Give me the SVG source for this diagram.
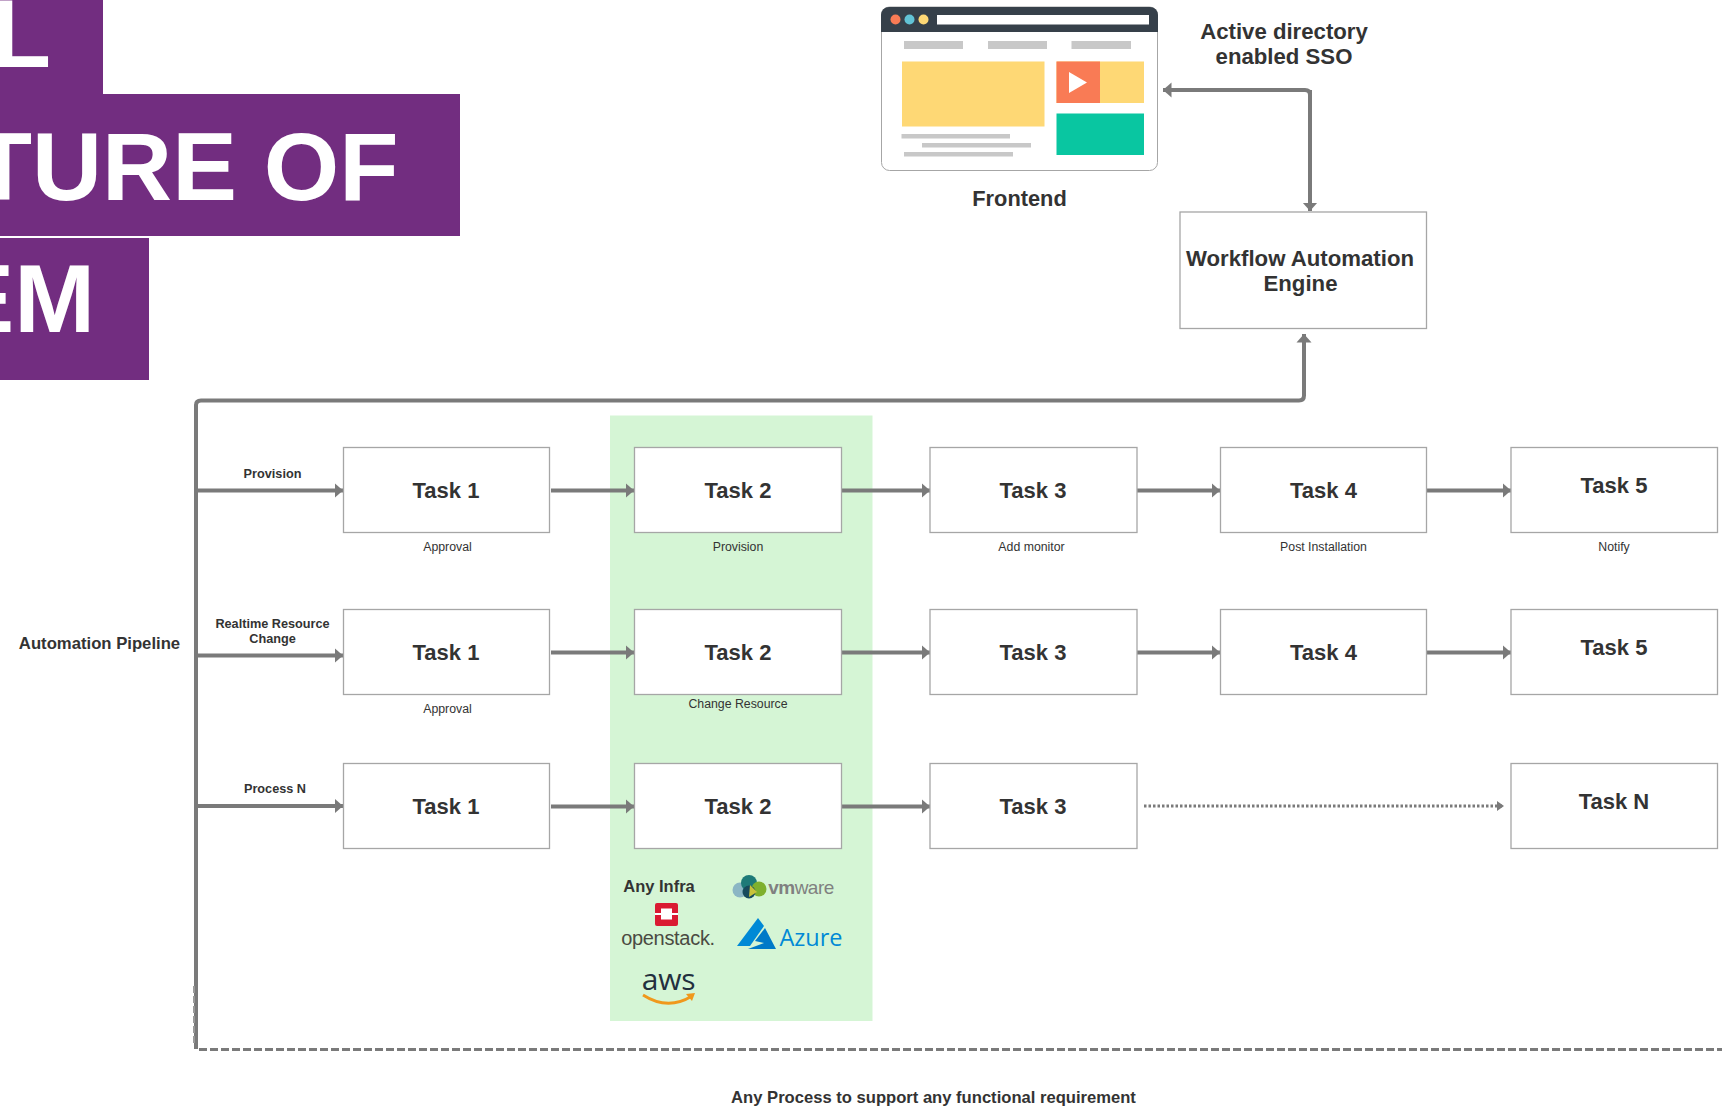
<svg xmlns="http://www.w3.org/2000/svg" width="1729" height="1107" viewBox="0 0 1729 1107">
<style>
text{font-family:"Liberation Sans",Arial,sans-serif;fill:#333;text-anchor:middle}
.t{font-size:22px;font-weight:700}
.s{font-size:12.300px}
.l{font-size:12.700px;font-weight:700}
.h{font-size:22.200px;font-weight:700}
.title{font-size:97px;font-weight:700;fill:#fff;text-anchor:end}
.box{fill:#fff;stroke:#a6a6a6;stroke-width:1.300}
.c{fill:none;stroke:#7a7a7a;stroke-width:4;stroke-linejoin:round}
.g{fill:#c8c8c8}
</style>
<defs>
<marker id="a" markerUnits="userSpaceOnUse" markerWidth="9" markerHeight="16" refX="8.500" refY="8" orient="auto-start-reverse"><path d="M0 0.500L8.500 8L0 15.500Z" fill="#7a7a7a"/></marker>
<marker id="d" markerUnits="userSpaceOnUse" markerWidth="7" markerHeight="10" refX="7" refY="5" orient="auto"><path d="M0 0L7 5L0 10Z" fill="#7a7a7a"/></marker>
</defs>
<rect width="1729" height="1107" fill="#fff"/>
<g id="title">
<rect x="0" y="0" width="103" height="94" fill="#722d80"/>
<rect x="0" y="94" width="460" height="142" fill="#722d80"/>
<rect x="0" y="238" width="149" height="142" fill="#722d80"/>
<text class="title" x="51" y="67">L</text>
<text class="title" x="398.500" y="199.500">TURE OF</text>
<text class="title" x="95" y="331.500">EM</text>
</g>
<rect id="infra-band" x="610" y="415.500" width="262.500" height="605.500" fill="#d5f5d5"/>
<g id="connectors">
<path class="c" d="M1310 95Q1310 90 1305 90H1163" marker-end="url(#a)"/>
<path class="c" d="M1310 90V211" marker-end="url(#a)"/>
<path class="c" d="M196 1049V405Q196 400.500 201 400.500H1299Q1304 400.500 1304 395.500V334" marker-end="url(#a)"/>
<path d="M199 1049.500H1722" fill="none" stroke="#7a7a7a" stroke-width="3" stroke-dasharray="8 3"/>
<path d="M194 986V1046" fill="none" stroke="#9a9a9a" stroke-width="2" stroke-dasharray="7 3"/>
<path class="c" d="M196 490.500H343" marker-end="url(#a)"/>
<path class="c" d="M551 490.500H634" marker-end="url(#a)"/>
<path class="c" d="M841 490.500H930" marker-end="url(#a)"/>
<path class="c" d="M1137 490.500H1220" marker-end="url(#a)"/>
<path class="c" d="M1426 490.500H1511" marker-end="url(#a)"/>
<path class="c" d="M196 655.500H343" marker-end="url(#a)"/>
<path class="c" d="M551 652.500H634" marker-end="url(#a)"/>
<path class="c" d="M841 652.500H930" marker-end="url(#a)"/>
<path class="c" d="M1137 652.500H1220" marker-end="url(#a)"/>
<path class="c" d="M1426 652.500H1511" marker-end="url(#a)"/>
<path class="c" d="M196 806H343" marker-end="url(#a)"/>
<path class="c" d="M551 806.500H634" marker-end="url(#a)"/>
<path class="c" d="M841 806.500H930" marker-end="url(#a)"/>
<path d="M1144 806H1504" fill="none" stroke="#7a7a7a" stroke-width="3" stroke-dasharray="2.500 2" marker-end="url(#d)"/>
</g>
<g id="frontend">
<rect x="881.500" y="7" width="276" height="163.500" rx="8" fill="#fff" stroke="#a6a6a6" stroke-width="1"/>
<path d="M881 32V15a8 8 0 0 1 8-8H1150a8 8 0 0 1 8 8V32Z" fill="#36404a"/>
<circle cx="895.500" cy="19.500" r="5" fill="#f97b55"/>
<circle cx="909.500" cy="19.500" r="5" fill="#62c3d6"/>
<circle cx="923.500" cy="19.500" r="5" fill="#fed875"/>
<rect x="937" y="15" width="212" height="9.500" fill="#fff"/>
<rect class="g" x="904" y="41" width="59" height="8"/>
<rect class="g" x="988" y="41" width="59" height="8"/>
<rect class="g" x="1071.500" y="41" width="59.500" height="8"/>
<rect x="902" y="61.500" width="142.500" height="65" fill="#fed875"/>
<rect x="1056.500" y="61.500" width="87.500" height="41.500" fill="#fed875"/>
<rect x="1056.500" y="61.500" width="43.500" height="41.500" fill="#f97b55"/>
<path d="M1069 72L1087 82.500L1069 93Z" fill="#fff"/>
<rect x="1056.500" y="113.500" width="87.500" height="41.500" fill="#09c6a1"/>
<rect class="g" x="901.500" y="134" width="108.500" height="4.500"/>
<rect class="g" x="922" y="143" width="109" height="4.500"/>
<rect class="g" x="904" y="152" width="109" height="4.500"/>
<text class="h" x="1019.500" y="206" style="font-size:21.800px">Frontend</text>
</g>
<text class="h" id="sso-label-1" x="1284" y="38.500">Active directory</text>
<text class="h" id="sso-label-2" x="1284" y="64">enabled SSO</text>
<g id="workflow-engine">
<rect class="box" x="1180" y="212" width="246.500" height="116.500"/>
<text class="h" x="1300" y="265.500">Workflow Automation</text>
<text class="h" x="1300.500" y="291">Engine</text>
</g>
<g id="r1-task1"><rect class="box" x="343.500" y="447.500" width="206" height="85"/><text class="t" x="446" y="498">Task 1</text><text class="s" x="447.500" y="551">Approval</text></g>
<g id="r1-task2"><rect class="box" x="634.500" y="447.500" width="207" height="85"/><text class="t" x="738" y="498">Task 2</text><text class="s" x="738" y="551">Provision</text></g>
<g id="r1-task3"><rect class="box" x="930" y="447.500" width="207" height="85"/><text class="t" x="1033" y="498">Task 3</text><text class="s" x="1031.500" y="551">Add monitor</text></g>
<g id="r1-task4"><rect class="box" x="1220.500" y="447.500" width="206" height="85"/><text class="t" x="1323.500" y="498">Task 4</text><text class="s" x="1323.500" y="551">Post Installation</text></g>
<g id="r1-task5"><rect class="box" x="1511" y="447.500" width="206.500" height="85"/><text class="t" x="1614" y="493">Task 5</text><text class="s" x="1614" y="551">Notify</text></g>
<g id="r2-task1"><rect class="box" x="343.500" y="609.500" width="206" height="85"/><text class="t" x="446" y="660">Task 1</text><text class="s" x="447.500" y="713">Approval</text></g>
<g id="r2-task2"><rect class="box" x="634.500" y="609.500" width="207" height="85"/><text class="t" x="738" y="660">Task 2</text><text class="s" x="738" y="708">Change Resource</text></g>
<g id="r2-task3"><rect class="box" x="930" y="609.500" width="207" height="85"/><text class="t" x="1033" y="660">Task 3</text></g>
<g id="r2-task4"><rect class="box" x="1220.500" y="609.500" width="206" height="85"/><text class="t" x="1323.500" y="660">Task 4</text></g>
<g id="r2-task5"><rect class="box" x="1511" y="609.500" width="206.500" height="85"/><text class="t" x="1614" y="655">Task 5</text></g>
<g id="r3-task1"><rect class="box" x="343.500" y="763.500" width="206" height="85"/><text class="t" x="446" y="814">Task 1</text></g>
<g id="r3-task2"><rect class="box" x="634.500" y="763.500" width="207" height="85"/><text class="t" x="738" y="814">Task 2</text></g>
<g id="r3-task3"><rect class="box" x="930" y="763.500" width="207" height="85"/><text class="t" x="1033" y="814">Task 3</text></g>
<g id="r3-taskn"><rect class="box" x="1511" y="763.500" width="206.500" height="85"/><text class="t" x="1614" y="809">Task N</text></g>
<g id="labels">
<text class="l" x="272.500" y="478">Provision</text>
<text class="l" x="272.500" y="628">Realtime Resource</text>
<text class="l" x="272.500" y="643">Change</text>
<text class="l" x="275" y="793">Process N</text>
<text x="99.500" y="649" style="font-size:16.700px;font-weight:700">Automation Pipeline</text>
<text x="933.500" y="1103" style="font-size:16.600px;font-weight:700">Any Process to support any functional requirement</text>
</g>
<g id="infra-logos">
<text x="659" y="891.500" style="font-size:16.500px;font-weight:700">Any Infra</text>
<g id="vmware">
<circle cx="740" cy="890" r="7.500" fill="#8bb6c4"/><circle cx="749" cy="883" r="8" fill="#1d7a78"/><circle cx="759" cy="889" r="7.500" fill="#7fb02e"/><circle cx="749" cy="892" r="6.500" fill="#174a5c"/><path d="M750 885L757 892L749 897Z" fill="#c9c23a"/>
<text x="801" y="894" style="font-size:19px;fill:#808080;letter-spacing:-.5px"><tspan style="font-weight:700">vm</tspan>ware</text>
</g>
<g id="openstack">
<rect x="655" y="903" width="23" height="23" rx="2" fill="#da1a32"/><rect x="661" y="908.500" width="11" height="11" fill="#fff"/><rect x="655" y="913" width="6" height="2" fill="#fff"/><rect x="672" y="913" width="6" height="2" fill="#fff"/>
<text x="668" y="945" style="font-size:20px;fill:#4a4a42;letter-spacing:-.3px">openstack.</text>
</g>
<g id="azure">
<path d="M758 918L737 946H750L764 926Z" fill="#0089d6"/><path d="M765 928L755 941L764 943L748 949H776Z" fill="#0079c8"/>
<text x="811" y="946" style="font-family:'Open Sans',sans-serif;font-size:23.500px;fill:#0089d6">Azure</text>
</g>
<g id="aws">
<text x="668.500" y="990" style="font-family:'Open Sans',sans-serif;font-size:30px;font-weight:400;fill:#232f3e;letter-spacing:-.3px">aws</text>
<path d="M643 995Q668 1011 692 996" fill="none" stroke="#f0981c" stroke-width="2.800"/><path d="M686 994L695 993L692 1001Z" fill="#f0981c"/>
</g>
</g>
</svg>
